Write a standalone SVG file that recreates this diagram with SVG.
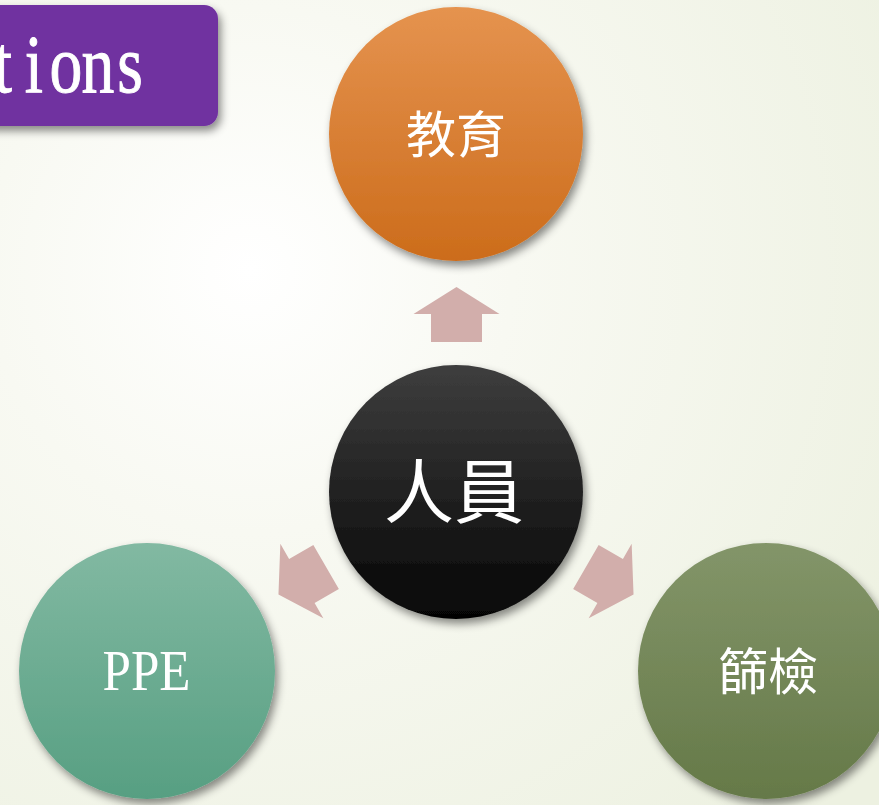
<svg xmlns="http://www.w3.org/2000/svg" width="879" height="805" viewBox="0 0 879 805">
  <defs>
    <radialGradient id="bg" cx="250" cy="270" r="750" gradientUnits="userSpaceOnUse">
      <stop offset="0" stop-color="#FFFFFF"/>
      <stop offset="0.35" stop-color="#F8F9F2"/>
      <stop offset="1" stop-color="#EDF1E1"/>
    </radialGradient>
    <linearGradient id="gOrange" x1="0" y1="0" x2="0" y2="1">
      <stop offset="0" stop-color="#E5934F"/>
      <stop offset="1" stop-color="#CC6C1B"/>
    </linearGradient>
    <linearGradient id="gBlack" x1="0" y1="0" x2="0" y2="1">
      <stop offset="0" stop-color="#3E3E3E"/>
      <stop offset="1" stop-color="#050505"/>
    </linearGradient>
    <linearGradient id="gTeal" x1="0" y1="0" x2="0" y2="1">
      <stop offset="0" stop-color="#82B9A2"/>
      <stop offset="1" stop-color="#579F82"/>
    </linearGradient>
    <linearGradient id="gOlive" x1="0" y1="0" x2="0" y2="1">
      <stop offset="0" stop-color="#839569"/>
      <stop offset="1" stop-color="#657948"/>
    </linearGradient>
    <filter id="shadow" x="-20%" y="-20%" width="140%" height="140%">
      <feDropShadow dx="3" dy="5" stdDeviation="4" flood-color="#000" flood-opacity="0.45"/>
    </filter>
    <path id="arrow" d="M0,-27.5 L43,-0.5 L25.5,-0.5 L25.5,27.5 L-25.5,27.5 L-25.5,-0.5 L-43,-0.5 Z"/>
  </defs>
  <style>
    .cjk { font-family: "Noto Sans CJK TC", "Noto Sans CJK SC", sans-serif; fill: #FFFFFF; text-anchor: middle; }
    .arrow { fill: #D2AEAB; }
  </style>

  <rect x="0" y="0" width="879" height="805" fill="url(#bg)"/>

  <g id="title">
    <rect x="-30" y="5" width="248" height="121" rx="14" fill="#7030A0" filter="url(#shadow)"/>
    <text transform="scale(0.8,1)" x="3.5 42.5 82.5 122.5 162.5" y="92" font-family="Liberation Serif, serif" font-size="82" fill="#FFFFFF" stroke="#FFFFFF" stroke-width="1" text-anchor="middle">tions</text>
  </g>

  <g id="connectors">
    <use href="#arrow" class="arrow" transform="translate(456.5,314.5)"/>
    <use href="#arrow" class="arrow" transform="translate(456,492) rotate(-120) translate(0,-177.5)"/>
    <use href="#arrow" class="arrow" transform="translate(456,492) rotate(120) translate(0,-177.5)"/>
  </g>

  <g id="node-education">
    <circle cx="456" cy="134" r="127" fill="url(#gOrange)" filter="url(#shadow)"/>
    <text x="456" y="153" class="cjk" font-size="50">教育</text>
  </g>

  <g id="node-personnel">
    <circle cx="456" cy="492" r="127" fill="url(#gBlack)" filter="url(#shadow)"/>
    <text x="454" y="518" class="cjk" font-size="70">人員</text>
  </g>

  <g id="node-ppe">
    <circle cx="147" cy="671" r="128" fill="url(#gTeal)" filter="url(#shadow)"/>
    <text transform="scale(0.88,1)" x="166.5" y="690" font-family="Liberation Serif, serif" font-size="58" fill="#FFFFFF" text-anchor="middle">PPE</text>
  </g>

  <g id="node-screening">
    <circle cx="766" cy="671" r="128" fill="url(#gOlive)" filter="url(#shadow)"/>
    <text x="768" y="690" class="cjk" font-size="50">篩檢</text>
  </g>
</svg>
